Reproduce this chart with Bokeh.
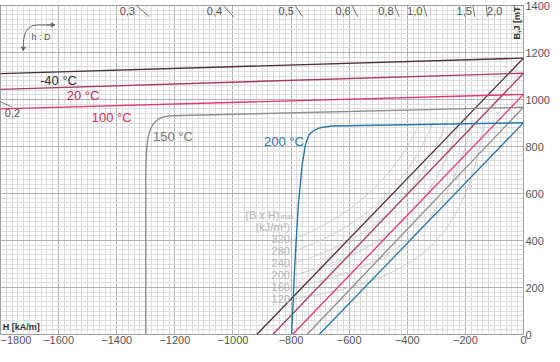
import numpy as np
from bokeh.plotting import figure
from bokeh.models import FixedTicker, Range1d, Arrow, VeeHead
from bokeh.core.properties import value
from bokeh.embed import file_html
from bokeh.resources import INLINE

# ---------------- data ----------------
x_ticks = list(range(-1800, 1, 200))
y_ticks = list(range(0, 1401, 200))
x_minor = list(range(-1800, 1, 20))
y_minor = list(range(0, 1401, 20))

temps = ["-40 °C", "20 °C", "100 °C", "150 °C", "200 °C"]

# intrinsic J curves (H in kA/m, J in mT)
j_m40_h = [-1800, 0]
j_m40_v = [1110, 1176]
j_20_h = [-1800, 0]
j_20_v = [1043, 1112]
j_100_h = [-1800, 0]
j_100_v = [960, 1022]
j_150_h = [-1300, -1300, -1297, -1292, -1284, -1272, -1255, -1235, -1210, 0]
j_150_v = [0, 700, 790, 840, 875, 900, 918, 927, 931, 967]
j_200_h = [-798, -787, -775, -762, -750, -738, -722, -700, -660, 0]
j_200_v = [0, 300, 550, 720, 810, 850, 868, 880, 887, 901]

# normal B lines: coercivity (B = 0) and remanence Br (H = 0)
b_hcb = [-918, -863, -795, -745, -703]
b_br = [1176, 1112, 1022, 967, 901]

# energy product hyperbolas (kJ/m^3)
bh_max = [320, 280, 240, 200, 160, 120]
bh_h_start = -790
bh_b_end = 910

# permeance coefficient (h:D) load lines: label and slope B/|H| (mT per kA/m)
pc_labels_top = ["0,3", "0,4", "0,5", "0,6", "0,8", "1,0", "1,5"]
pc_k_top = [1.05, 1.355, 1.78, 2.37, 3.16, 4.07, 8.05]
pc_label_r = "2,0"
pc_k_r = 10.9
pc_label_left = "0,2"
pc_k_left = 0.55

# ---------------- styles ----------------
line_cols = ["#4b2f3b", "#a83a62", "#e0396a", "#8e8e8e", "#2a78a4"]
text_cols = ["#333333", "#c02e5e", "#e03060", "#7a7a7a", "#2c7aa8"]
FONT_NAME = "Liberation Sans"
FONT = value(FONT_NAME)

p = figure(width=552, height=346, x_range=Range1d(-1800, 0), y_range=Range1d(0, 1400),
           output_backend="svg", toolbar_location=None, y_axis_location="right",
           min_border_left=0, min_border_top=5, min_border_right=0, min_border_bottom=0)
p.background_fill_color = "white"
p.border_fill_color = "white"
p.outline_line_color = "#9c9c9c"
p.outline_line_width = 1

p.xaxis.ticker = FixedTicker(ticks=x_ticks, minor_ticks=x_minor)
p.yaxis.ticker = FixedTicker(ticks=y_ticks, minor_ticks=y_minor)
for ax in (p.xaxis, p.yaxis):
    ax.axis_line_color = None
    ax.major_tick_line_color = None
    ax.minor_tick_line_color = None
    ax.major_tick_out = 0
    ax.major_tick_in = 0
    ax.minor_tick_out = 0
    ax.minor_tick_in = 0
    ax.axis_label_standoff = 0
    ax.major_label_text_font = FONT_NAME
    ax.major_label_text_font_size = "11px"
    ax.major_label_text_color = "#555555"
p.xaxis.major_label_standoff = 1
p.yaxis.major_label_standoff = 2
for g in (p.xgrid, p.ygrid):
    g.grid_line_color = "#b2b2b2"
    g.grid_line_width = 1
    g.minor_grid_line_color = "#dddddd"
    g.minor_grid_line_width = 1

# hyperbolas
for e in bh_max:
    h_end = -e * 1000.0 / bh_b_end
    hh = np.linspace(bh_h_start, h_end, 80)
    p.line(hh, e * 1000.0 / (-hh), line_color="#c9c9c9", line_width=0.9)

# load line ticks
def pc_seg(k, b_top=1400, b_bot=1352):
    return -b_top / k, b_top, -b_bot / k, b_bot

for k in pc_k_top + [pc_k_r]:
    x0, y0, x1, y1 = pc_seg(k)
    p.segment(x0=[x0], y0=[y0], x1=[x1], y1=[y1], line_color="#555555", line_width=0.8)
p.segment(x0=[-1800], y0=[1800 * pc_k_left], x1=[-1760], y1=[1760 * pc_k_left],
          line_color="#555555", line_width=0.8)

p.text(x=[-1400 / k - 4 for k in pc_k_top], y=[1394] * len(pc_k_top), text=pc_labels_top,
       text_font=FONT, text_font_size="11px", text_color="#555555",
       text_align="right", text_baseline="top")
p.text(x=[-1400 / pc_k_r + 3], y=[1394], text=[pc_label_r],
       text_font=FONT, text_font_size="11px", text_color="#555555",
       text_align="left", text_baseline="top")
p.text(x=[-1785], y=[958], text=[pc_label_left],
       text_font=FONT, text_font_size="11px", text_color="#555555",
       text_align="left", text_baseline="top")

# B lines
for i in range(5):
    p.line([b_hcb[i], 0], [0, b_br[i]], line_color=line_cols[i], line_width=1.3)

# J curves
j_h = [j_m40_h, j_20_h, j_100_h, j_150_h, j_200_h]
j_v = [j_m40_v, j_20_v, j_100_v, j_150_v, j_200_v]
for i in range(5):
    p.line(j_h[i], j_v[i], line_color=line_cols[i], line_width=1.4)

# temperature labels
lab_x = [-1664, -1572, -1486, -1275, -893]
lab_y = [1081, 1015, 924, 841, 820]
for i in range(5):
    p.text(x=[lab_x[i]], y=[lab_y[i]], text=[temps[i]], text_color=text_cols[i],
           text_font=FONT, text_font_size="13px", text_baseline="middle", text_align="left")

# energy product labels
p.text(x=[-804] * len(bh_max), y=[e * 1000.0 / -bh_h_start for e in bh_max],
       text=[str(e) for e in bh_max], text_font=FONT, text_font_size="11px",
       text_color="#b4b4b4", text_align="right", text_baseline="middle")
p.text(x=[-840], y=[510], text=["(B x H)"], text_font=FONT, text_font_size="11px",
       text_color="#b4b4b4", text_align="right", text_baseline="middle")
p.text(x=[-836], y=[503], text=["max"], text_font=FONT, text_font_size="7px",
       text_color="#b4b4b4", text_align="left", text_baseline="middle")
p.text(x=[-804], y=[458], text=["(kJ/m³)"], text_font=FONT, text_font_size="11px",
       text_color="#b4b4b4", text_align="right", text_baseline="middle")

# axis titles
p.text(x=[-1792], y=[12], text=["H [kA/m]"], text_font=FONT, text_font_size="9px",
       text_font_style="bold", text_color="#333333", text_align="left", text_baseline="bottom")
p.text(x=[-6], y=[1255], text=["B,J [mT]"], text_font=FONT, text_font_size="9px",
       text_font_style="bold", text_color="#333333", text_align="left",
       text_baseline="bottom", angle=np.pi / 2)

# h : D arrow
ah = [-1721.6, -1721.0, -1719.9, -1714.8, -1704.5, -1690.9, -1673.9, -1615.9]
av = [1212, 1240, 1259.3, 1284.2, 1302.8, 1313.2, 1317.3, 1317.3]
p.line(ah, av, line_color="#666666", line_width=1)
p.add_layout(Arrow(end=VeeHead(size=4, line_color="#666666", line_width=1),
                   x_start=-1721.6, y_start=1225, x_end=-1721.6, y_end=1208,
                   line_color="#666666", line_width=1))
p.add_layout(Arrow(end=VeeHead(size=4, line_color="#666666", line_width=1),
                   x_start=-1640, y_start=1317.3, x_end=-1613, y_end=1317.3,
                   line_color="#666666", line_width=1))
p.text(x=[-1693], y=[1268], text=["h : D"], text_font=FONT, text_font_size="9px",
       text_color="#555555", text_align="left", text_baseline="middle")

open("out.html", "w").write(file_html(p, INLINE))
